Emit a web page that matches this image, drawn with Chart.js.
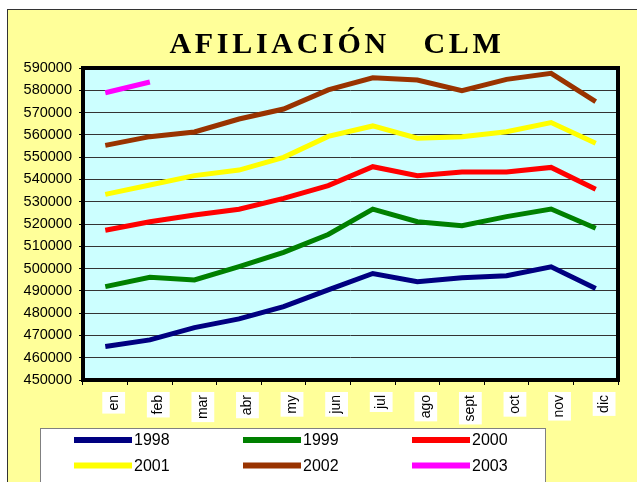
<!DOCTYPE html>
<html>
<head>
<meta charset="utf-8">
<title>Afiliación CLM</title>
<script src="https://cdn.jsdelivr.net/npm/chart.js"></script>
<style>
  html, body { margin: 0; padding: 0; background: #fff; }
  #wrap { width: 637px; height: 482px; }
</style>
</head>
<body>
<div id="wrap"><canvas id="chart" width="637" height="482"></canvas></div>
<script>
// datos
const months = ['en', 'feb', 'mar', 'abr', 'my', 'jun', 'jul', 'ago', 'sept', 'oct', 'nov', 'dic'];
const years = ['1998', '1999', '2000', '2001', '2002', '2003'];
const v1998 = [465000, 468000, 473500, 477400, 482900, 490400, 497800, 494100, 495900, 496800, 500800, 491100];
const v1999 = [491900, 496100, 494900, 500900, 507300, 515300, 526700, 521000, 519200, 523300, 526700, 518100];
const v2000 = [517200, 521000, 524000, 526600, 531500, 537200, 545700, 541700, 543300, 543300, 545400, 535600];
const v2001 = [533300, 537500, 541700, 544200, 549900, 559300, 564000, 558500, 559200, 561400, 565500, 556200];
const v2002 = [555300, 559200, 561300, 567100, 571600, 580200, 585600, 584600, 579800, 584900, 587600, 574900];
const v2003 = [578900, 583700];
const colors = ['#000080', '#008000', '#ff0000', '#ffff00', '#993300', '#ff00ff'];
const yMin = 450000;
const yMax = 590000;
const yStep = 10000;

const series = [v1998, v1999, v2000, v2001, v2002, v2003];

// fondo amarillo, marco y área de trazado
const framePlugin = {
  id: 'frame',
  beforeDraw(chart) {
    const ctx = chart.ctx;
    const a = chart.chartArea;
    ctx.save();
    ctx.fillStyle = '#ffffff';
    ctx.fillRect(0, 0, chart.width, chart.height);
    ctx.fillStyle = '#ffff99';
    ctx.fillRect(7, 9, chart.width, chart.height);
    ctx.strokeStyle = '#333333';
    ctx.lineWidth = 1;
    ctx.strokeRect(7.5, 9.5, chart.width, chart.height);
    ctx.fillStyle = '#ccffff';
    ctx.fillRect(a.left, a.top, a.right - a.left, a.bottom - a.top);
    ctx.restore();
  },
  afterDraw(chart) {
    const ctx = chart.ctx;
    const a = chart.chartArea;
    ctx.save();
    ctx.strokeStyle = '#000000';
    ctx.lineWidth = 4;
    ctx.strokeRect(a.left, a.top, a.right - a.left, a.bottom - a.top);

    // título
    ctx.fillStyle = '#000000';
    ctx.font = 'bold 30px "Liberation Serif", "Times New Roman", serif';
    ctx.letterSpacing = '3.7px';
    ctx.textAlign = 'center';
    ctx.textBaseline = 'alphabetic';
    ctx.fillText('AFILIACIÓN   CLM', 337, 53);
    ctx.letterSpacing = '0px';

    // leyenda
    ctx.fillStyle = '#ffffff';
    ctx.fillRect(40, 428, 505, 70);
    ctx.strokeStyle = '#808080';
    ctx.lineWidth = 1;
    ctx.strokeRect(40.5, 428.5, 505, 70);
    ctx.font = '16px "Liberation Sans", Arial, sans-serif';
    ctx.textAlign = 'left';
    ctx.textBaseline = 'middle';
    chart.data.datasets.forEach((ds, i) => {
      const col = i % 3;
      const row = Math.floor(i / 3);
      const x = 74 + col * 169;
      const y = 440 + row * 25.5;
      ctx.fillStyle = ds.borderColor;
      ctx.fillRect(x, y - 3, 58, 6);
      ctx.fillStyle = '#000000';
      ctx.fillText(ds.label, x + 60, y + 1);
    });
    ctx.restore();
  }
};

new Chart(document.getElementById('chart'), {
  type: 'line',
  data: {
    labels: months,
    datasets: years.map((y, i) => ({
      label: y,
      data: series[i],
      borderColor: colors[i],
      backgroundColor: colors[i],
      borderWidth: 5,
      pointRadius: 0,
      tension: 0,
      fill: false
    }))
  },
  options: {
    responsive: false,
    animation: false,
    layout: { padding: { left: 0, top: 68, right: 19, bottom: 0 } },
    plugins: {
      legend: { display: false },
      title: { display: false },
      tooltip: { enabled: false }
    },
    scales: {
      x: {
        offset: true,
        afterFit(s) { s.height = 102; },
        border: { display: false },
        grid: {
          offset: true,
          drawOnChartArea: false,
          tickLength: 5,
          tickColor: '#000000',
          tickWidth: 1
        },
        ticks: {
          autoSkip: false,
          maxRotation: 90,
          minRotation: 90,
          padding: 10,
          color: '#000000',
          font: { family: '"Liberation Sans", Arial, sans-serif', size: 14 },
          showLabelBackdrop: true,
          backdropColor: '#ffffff',
          backdropPadding: 3
        }
      },
      y: {
        min: yMin,
        max: yMax,
        afterFit(s) { s.width = 83; },
        border: { display: false },
        grid: {
          color: '#333333',
          lineWidth: 1,
          tickLength: 4,
          tickColor: '#000000'
        },
        ticks: {
          stepSize: yStep,
          padding: 7,
          color: '#000000',
          font: { family: '"Liberation Sans", Arial, sans-serif', size: 14.5 },
          callback: v => String(v)
        }
      }
    }
  },
  plugins: [framePlugin]
});
</script>
</body>
</html>
